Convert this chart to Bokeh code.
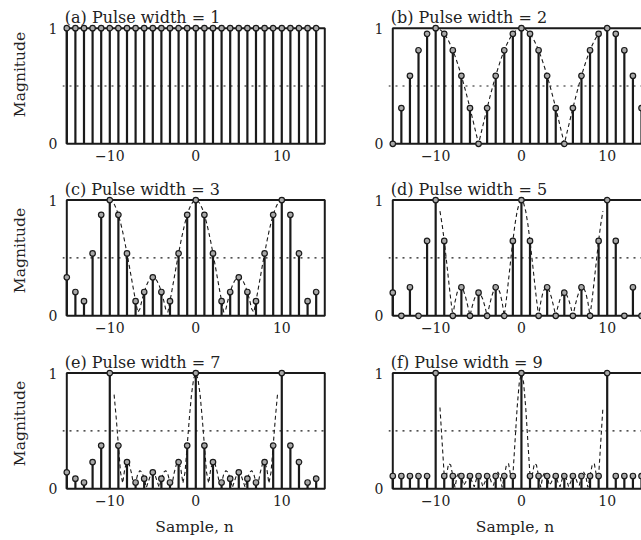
from bokeh.plotting import figure
from bokeh.layouts import column, row
from bokeh.models import Span, FixedTicker
from bokeh.core.properties import value
from bokeh.embed import file_html
from bokeh.resources import INLINE

# ---------------- data ----------------
n = list(range(-15, 15))

titles = ["(a) Pulse width = 1", "(b) Pulse width = 2", "(c) Pulse width = 3",
          "(d) Pulse width = 5", "(e) Pulse width = 7", "(f) Pulse width = 9"]

mag1 = [1.0, 1.0, 1.0, 1.0, 1.0, 1.0, 1.0, 1.0, 1.0, 1.0,
        1.0, 1.0, 1.0, 1.0, 1.0, 1.0, 1.0, 1.0, 1.0, 1.0,
        1.0, 1.0, 1.0, 1.0, 1.0, 1.0, 1.0, 1.0, 1.0, 1.0]
mag2 = [0.0, 0.309, 0.588, 0.809, 0.951, 1.0, 0.951, 0.809, 0.588, 0.309,
        0.0, 0.309, 0.588, 0.809, 0.951, 1.0, 0.951, 0.809, 0.588, 0.309,
        0.0, 0.309, 0.588, 0.809, 0.951, 1.0, 0.951, 0.809, 0.588, 0.309]
mag3 = [0.333, 0.206, 0.127, 0.539, 0.873, 1.0, 0.873, 0.539, 0.127, 0.206,
        0.333, 0.206, 0.127, 0.539, 0.873, 1.0, 0.873, 0.539, 0.127, 0.206,
        0.333, 0.206, 0.127, 0.539, 0.873, 1.0, 0.873, 0.539, 0.127, 0.206]
mag5 = [0.2, 0.0, 0.247, 0.0, 0.647, 1.0, 0.647, 0.0, 0.247, 0.0,
        0.2, 0.0, 0.247, 0.0, 0.647, 1.0, 0.647, 0.0, 0.247, 0.0,
        0.2, 0.0, 0.247, 0.0, 0.647, 1.0, 0.647, 0.0, 0.247, 0.0]
mag7 = [0.143, 0.088, 0.055, 0.231, 0.374, 1.0, 0.374, 0.231, 0.055, 0.088,
        0.143, 0.088, 0.055, 0.231, 0.374, 1.0, 0.374, 0.231, 0.055, 0.088,
        0.143, 0.088, 0.055, 0.231, 0.374, 1.0, 0.374, 0.231, 0.055, 0.088]
mag9 = [0.111, 0.111, 0.111, 0.111, 0.111, 1.0, 0.111, 0.111, 0.111, 0.111,
        0.111, 0.111, 0.111, 0.111, 0.111, 1.0, 0.111, 0.111, 0.111, 0.111,
        0.111, 0.111, 0.111, 0.111, 0.111, 1.0, 0.111, 0.111, 0.111, 0.111]

# dashed envelope, half period (x = 0 .. 5, step 0.25)
env_step = 0.25
env_limit = 9.5
env2 = [1.0, 0.997, 0.988, 0.972, 0.951, 0.924, 0.891, 0.853, 0.809, 0.760, 0.707,
        0.649, 0.588, 0.522, 0.454, 0.383, 0.309, 0.233, 0.156, 0.078, 0.0]
env3 = [1.0, 0.992, 0.967, 0.927, 0.873, 0.805, 0.725, 0.636, 0.539, 0.438, 0.333,
        0.229, 0.127, 0.031, 0.059, 0.138, 0.206, 0.261, 0.301, 0.325, 0.333]
env5 = [1.0, 0.975, 0.904, 0.792, 0.647, 0.483, 0.312, 0.146, 0.0, 0.118, 0.2,
        0.243, 0.247, 0.217, 0.159, 0.083, 0.0, 0.079, 0.143, 0.185, 0.2]
env7 = [1.0, 0.951, 0.814, 0.610, 0.374, 0.143, 0.049, 0.178, 0.231, 0.214, 0.143,
        0.044, 0.055, 0.127, 0.158, 0.143, 0.088, 0.012, 0.066, 0.122, 0.143]
env9 = [1.0, 0.920, 0.702, 0.406, 0.111, 0.111, 0.218, 0.207, 0.111, 0.013, 0.111,
        0.146, 0.111, 0.030, 0.057, 0.111, 0.111, 0.060, 0.018, 0.085, 0.111]

x_ticks = [-10, 0, 10]
y_ticks = [0, 1]
x_lo, x_hi = -15, 15
y_lo, y_hi = 0, 1
ref_level = 0.5

# ---------------- style ----------------
FONT = "DejaVu Serif"
TXT = "#222222"
INK = "#1a1a1a"


def mirror(half, step, limit):
    m = len(half) - 1
    per = 2 * m
    jmax = int(round(limit / step))
    xs, ys = [], []
    for j in range(-jmax, jmax + 1):
        k = abs(j) % per
        if k > m:
            k = per - k
        xs.append(j * step)
        ys.append(half[k])
    return xs, ys


def panel(idx, mags, env):
    col = idx % 2
    rw = idx // 2
    if col == 0:
        width, mbl, mbr, xr = 330, 62, 4, (-15.5, 15.2)
    else:
        width, mbl, mbr, xr = 311, 58, 0, (-15.5, 14.0)
    if rw == 0:
        height, mbb, yr = 180, 32, (-0.04, 1.239)
    elif rw == 1:
        height, mbb, yr = 173, 33, (-0.04, 1.169)
    else:
        height, mbb, yr = 187, 47, (-0.04, 1.169)

    p = figure(width=width, height=height, x_range=xr, y_range=yr,
               output_backend="svg", toolbar_location=None,
               min_border_left=mbl, min_border_right=mbr,
               min_border_top=0, min_border_bottom=mbb)
    p.outline_line_color = None
    p.xgrid.visible = False
    p.ygrid.visible = False
    p.background_fill_color = "white"

    for ax in (p.xaxis[0], p.yaxis[0]):
        ax.axis_line_color = None
        ax.major_tick_line_color = None
        ax.minor_tick_line_color = None
        ax.major_tick_in = 0
        ax.major_tick_out = 0
        ax.minor_tick_in = 0
        ax.minor_tick_out = 0
        ax.major_label_text_font = FONT
        ax.major_label_text_font_size = "14px"
        ax.major_label_text_color = TXT
        ax.axis_label_text_font = FONT
        ax.axis_label_text_font_size = "15.5px"
        ax.axis_label_text_font_style = "normal"
        ax.axis_label_text_color = TXT
    p.xaxis.ticker = FixedTicker(ticks=x_ticks)
    p.yaxis.ticker = FixedTicker(ticks=y_ticks)
    p.xaxis.major_label_overrides = {-10: "\u221210", 0: "0", 10: "10"}
    p.xaxis.major_label_standoff = 1
    p.yaxis.major_label_standoff = 5
    if col == 0:
        p.yaxis.axis_label = "Magnitude"
        p.yaxis.axis_label_standoff = 17
    if rw == 2:
        p.xaxis.axis_label = "Sample, n"
        p.xaxis.axis_label_standoff = 9

    p.add_layout(Span(location=ref_level, dimension="width", line_color="#1a1a1a",
                      line_width=1.2, line_dash="2 5"))

    p.quad(left=[x_lo], right=[x_hi], bottom=[y_lo], top=[y_hi], fill_color=None,
           line_color=INK, line_width=2)

    if env is not None:
        ex, ey = mirror(env, env_step, env_limit)
        p.line(ex, ey, line_color=INK, line_width=1.1, line_dash="4 3")

    p.segment(x0=n, y0=[0] * len(n), x1=n, y1=mags, line_color=INK, line_width=2.2)
    p.scatter(n, mags, size=5.5, marker="circle", line_color=INK, line_width=1.2,
              fill_color="#a8a8a8")

    p.text(x=[x_lo], y=[y_hi], text=[titles[idx]], x_offset=-2, y_offset=-11,
           text_font=value(FONT), text_font_size="16px", text_color=TXT,
           text_baseline="alphabetic", text_align="left")
    return p


all_mags = [mag1, mag2, mag3, mag5, mag7, mag9]
all_env = [None, env2, env3, env5, env7, env9]
ps = [panel(i, all_mags[i], all_env[i]) for i in range(6)]

layout = column(row(ps[0], ps[1]), row(ps[2], ps[3]), row(ps[4], ps[5]))

open("out.html", "w").write(file_html(layout, INLINE))
